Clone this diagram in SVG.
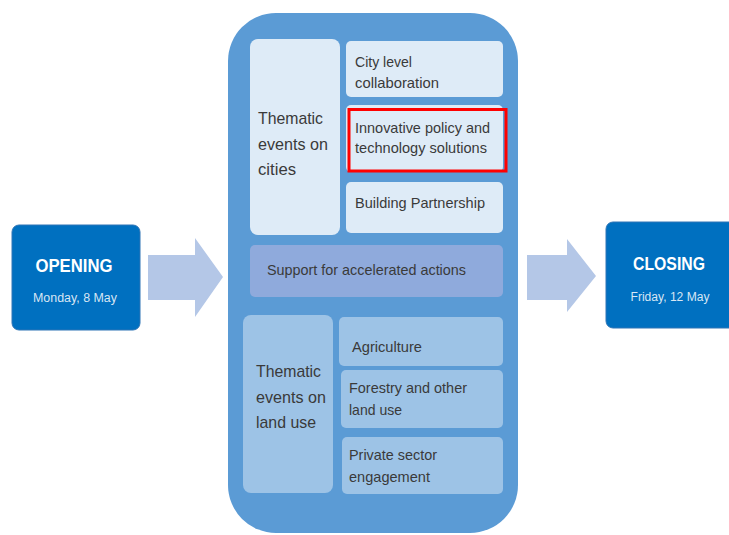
<svg xmlns="http://www.w3.org/2000/svg" width="729" height="535" viewBox="0 0 729 535">
<style>
.t{font-family:"Liberation Sans",Arial,sans-serif;fill:#3A3A3A;font-size:15px}
.tl{font-family:"Liberation Sans",Arial,sans-serif;fill:#3A3A3A;font-size:17px}
.w{font-family:"Liberation Sans",Arial,sans-serif;fill:#ffffff;text-anchor:middle}
.arrow{fill:#B4C7E7}
.endbox{fill:#0070C0;stroke:#2E75B6;stroke-width:1}
</style>
<rect width="729" height="535" fill="#ffffff"/>
<g id="connectors">
<polygon class="arrow" points="148,255 195,255 195,238 223,277 195,317 195,300 148,300"/>
<polygon class="arrow" points="527,255 567,255 567,239 596,276 567,312 567,300 527,300"/>
</g>
<g id="opening">
<rect class="endbox" x="12" y="225" width="128" height="105" rx="7"/>
<text class="w" x="74" y="272" font-size="19" font-weight="bold" textLength="77" lengthAdjust="spacingAndGlyphs">OPENING</text>
<text class="w" x="75" y="302" font-size="12" fill-opacity="0.85" textLength="84" lengthAdjust="spacingAndGlyphs">Monday, 8 May</text>
</g>
<g id="closing">
<rect class="endbox" x="606" y="222" width="132" height="106" rx="7"/>
<text class="w" x="669" y="270" font-size="19" font-weight="bold" textLength="72" lengthAdjust="spacingAndGlyphs">CLOSING</text>
<text class="w" x="670" y="301" font-size="12" fill-opacity="0.85" textLength="79" lengthAdjust="spacingAndGlyphs">Friday, 12 May</text>
</g>
<g id="main">
<rect x="228" y="13" width="290" height="520" rx="48" fill="#5B9BD5"/>
</g>
<g id="cities">
<rect x="250" y="39" width="90" height="196" rx="8" fill="#DEEBF7"/>
<text class="tl" x="258" y="124" textLength="65" lengthAdjust="spacingAndGlyphs">Thematic</text>
<text class="tl" x="258" y="150" textLength="70" lengthAdjust="spacingAndGlyphs">events on</text>
<text class="tl" x="258" y="175" textLength="38" lengthAdjust="spacingAndGlyphs">cities</text>
</g>
<g id="city-level">
<rect x="346" y="41" width="157" height="56" rx="5" fill="#DEEBF7"/>
<text class="t" x="355" y="67" textLength="57" lengthAdjust="spacingAndGlyphs">City level</text>
<text class="t" x="355" y="88" textLength="84" lengthAdjust="spacingAndGlyphs">collaboration</text>
</g>
<g id="innovative">
<rect x="346" y="105" width="157" height="67" rx="5" fill="#DEEBF7"/>
<rect x="349" y="109.5" width="157" height="61.5" fill="none" stroke="#FF0000" stroke-width="3"/>
<text class="t" x="355" y="133" textLength="135" lengthAdjust="spacingAndGlyphs">Innovative policy and</text>
<text class="t" x="355" y="153" textLength="132" lengthAdjust="spacingAndGlyphs">technology solutions</text>
</g>
<g id="building">
<rect x="346" y="182" width="157" height="51" rx="5" fill="#DEEBF7"/>
<text class="t" x="355" y="208" textLength="130" lengthAdjust="spacingAndGlyphs">Building Partnership</text>
</g>
<g id="support">
<rect x="250" y="245" width="253" height="52" rx="5" fill="#8FAADC"/>
<text class="t" x="267" y="275" textLength="199" lengthAdjust="spacingAndGlyphs">Support for accelerated actions</text>
</g>
<g id="land-use">
<rect x="243" y="315" width="90" height="178" rx="8" fill="#9DC3E6"/>
<text class="tl" x="256" y="377" textLength="65" lengthAdjust="spacingAndGlyphs">Thematic</text>
<text class="tl" x="256" y="403" textLength="70" lengthAdjust="spacingAndGlyphs">events on</text>
<text class="tl" x="256" y="428" textLength="60" lengthAdjust="spacingAndGlyphs">land use</text>
</g>
<g id="agriculture">
<rect x="339" y="317" width="164" height="49" rx="5" fill="#9DC3E6"/>
<text class="t" x="352" y="352" textLength="70" lengthAdjust="spacingAndGlyphs">Agriculture</text>
</g>
<g id="forestry">
<rect x="341" y="370" width="162" height="58" rx="5" fill="#9DC3E6"/>
<text class="t" x="349" y="393" textLength="118" lengthAdjust="spacingAndGlyphs">Forestry and other</text>
<text class="t" x="349" y="415" textLength="53" lengthAdjust="spacingAndGlyphs">land use</text>
</g>
<g id="private">
<rect x="342" y="437" width="161" height="57" rx="5" fill="#9DC3E6"/>
<text class="t" x="349" y="460" textLength="88" lengthAdjust="spacingAndGlyphs">Private sector</text>
<text class="t" x="349" y="482" textLength="81" lengthAdjust="spacingAndGlyphs">engagement</text>
</g>
</svg>
